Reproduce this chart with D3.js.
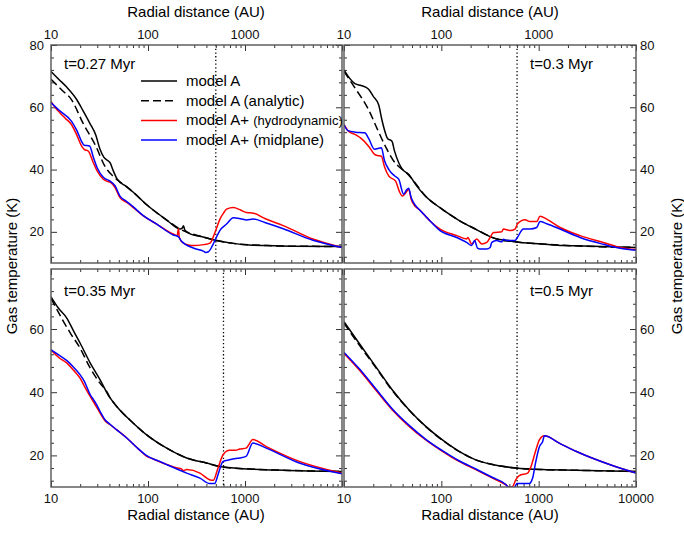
<!DOCTYPE html>
<html>
<head>
<meta charset="utf-8">
<script src="https://cdn.jsdelivr.net/npm/d3@7"></script>
<style>
  body { margin: 0; background: #fff; }
  svg { font-family: "Liberation Sans", Arial, sans-serif; }
</style>
</head>
<body>
<svg id="chart" width="684" height="533"></svg>
<script>
/* ---------- data: [radius AU, gas temperature K] ---------- */
// t = 0.27 Myr
var tlModel = [[10,71.5],[12,69],[14.5,66.5],[18.4,62.5],[21.3,59],[25,55],[29,51],[32,46.5],[35,44],[38,43],[40.6,42.2],[44,39.5],[48,37],[60,34.5],[70,32.8],[97,28.7],[156,23.8],[214,20.9],[225,21.2],[232,22],[240,20.5],[280,19.2],[344,18.6],[510,17.2],[758,16.3],[1100,15.8],[1660,15.6],[3000,15.4],[10000,15.3]];
var tlAnalytic = [[10,69],[13,65.5],[16.3,62.4],[21.3,55],[29,47.5],[36,41],[45,37.5],[60,34.5],[70,32.8],[97,28.7],[156,23.8],[214,20.9],[344,18.6],[510,17.2],[758,16.3],[1660,15.6],[3000,15.4],[10000,15.3]];
var tlHydro = [[10,61.9],[11,60],[12.4,58.2],[14,56.5],[16.3,54.4],[18.5,51],[20.7,47.5],[22,46.5],[24.3,45.9],[27.3,42.2],[30,39.5],[34.6,36.9],[38,36.2],[40.6,36],[45.7,34.2],[51.4,31],[60,29.5],[70.6,27.8],[89.5,25.1],[123,22.5],[182,19.3],[200,18.8],[206,21],[210,18.3],[222,16.8],[260,15.8],[293,15.6],[372,15.9],[436,16.4],[490,19.8],[552,24.1],[600,26],[646,27.3],[758,27.8],[900,27],[1040,26.2],[1220,26],[1600,24.3],[2480,22],[5010,17.7],[10000,15]];
var tlMid = [[10,61.5],[12.4,58.8],[16.3,55.5],[18.5,52.5],[20.7,49],[22,47.8],[25,47.6],[27.3,44],[30,40.5],[34.6,37.5],[40.6,36.3],[45.7,34.8],[51.4,31.5],[60,29.8],[70.6,28],[89.5,25.2],[123,22.5],[182,19],[206,18.4],[222,17],[293,14.8],[372,13.8],[393,13.4],[420,13.6],[460,15.5],[490,17.3],[552,20.5],[646,22.5],[758,24.5],[900,24.2],[1040,23.8],[1220,24.1],[1600,23],[2480,21],[5010,17.3],[10000,15]];

// t = 0.3 Myr
var trModel = [[10,72],[11,70],[13.1,67.5],[15,67],[17.9,65.8],[20,63.5],[22.7,60.8],[24.5,56],[26.6,51.8],[28,50],[31.1,49.1],[33,46],[36.5,42.2],[40,40],[46.2,38.5],[55,35],[68.5,31.5],[101.6,27.3],[150,23.8],[224,20.9],[371,17.7],[493,17.2],[572,16.8],[1084,16.1],[1796,15.6],[2383,15.5],[10000,15]];
var trAnalytic = [[10,71.5],[13.1,66],[17.9,59.2],[22,53],[26.6,47.5],[32,43],[38,40.5],[42,39.5],[50,37],[68.5,31.5],[101.6,27.3],[150,23.8],[224,20.9],[371,17.7],[572,16.8],[1084,16.1],[2383,15.5],[10000,15]];
var trHydro = [[10,54.4],[11,52.5],[13.1,51.2],[15,50],[17.9,47.5],[20.6,44.9],[22,44.5],[24.2,44.3],[26,41],[28.9,37.9],[33.9,36.3],[37,33],[39.8,31.5],[43,32.5],[46.2,33.7],[49,30.5],[51.8,28.9],[60,27],[68.5,25.1],[76.6,23.5],[97,20.9],[144,18.8],[182,17.7],[187,18.2],[205,16.1],[231,17.7],[260,16.1],[293,16.6],[317,18.2],[343,19.8],[417,20],[434,20.9],[508,20.4],[572,20.9],[604,22.5],[724,23.9],[813,23.3],[955,23.3],[1033,25],[1210,24.1],[1660,21.4],[2660,18.8],[4620,16.6],[6870,15],[10000,14.3]];
var trMid = [[10,54.4],[11,52.5],[13.1,52],[16.3,51.8],[17.9,50],[20.6,46.5],[24.2,47],[26,43],[28.9,40],[33,38],[36.5,36.9],[41,32.1],[44,33.5],[46.2,34],[49,31],[51.8,29.4],[60,27],[68.5,25.1],[76.6,23.5],[97,20.4],[144,18.2],[182,16.6],[205,15.6],[220,17.2],[235,14.8],[250,14.5],[293,14.5],[317,15],[330,16.6],[370,17.2],[417,16.8],[434,17.6],[470,17.2],[572,17.2],[604,18.2],[697,20.9],[813,20.9],[955,21.4],[1033,23.3],[1210,22.6],[1660,20.9],[2660,18.2],[4620,16],[6870,14.7],[10000,14.1]];

// t = 0.35 Myr
var blModel = [[10,70.2],[12,66.5],[14.6,63.4],[17,59.5],[20,55.5],[25.4,49.2],[32.1,43.9],[40,38.5],[47.6,35.5],[70.6,30.2],[96.9,26.5],[156,22.3],[250,19.2],[400,17.6],[594,16.3],[1117,15.7],[2455,15.3],[10000,14.9]];
var blAnalytic = [[10,69.7],[13.5,62.3],[16,58.5],[20,53.9],[25,48],[32.1,42.8],[37.6,40.2],[40,38.6],[47.6,35.5],[70.6,30.2],[96.9,26.5],[156,22.3],[250,19.2],[400,17.6],[594,16.3],[1117,15.7],[2455,15.3],[10000,14.9]];
var blHydro = [[10,53.4],[12,51],[14.6,49.2],[17,47],[20,44.4],[22,42],[25.4,38.6],[28,36.5],[32.1,33.4],[36,31],[40.8,29.7],[47.6,28.1],[60.4,25.5],[80,22],[96.9,19.7],[110,19],[125,18.3],[156,17.1],[200,16],[220,15.8],[230,15.2],[250,15.5],[343,14.4],[431,12.3],[470,12.1],[527,16],[594,20.2],[692,21.6],[800,21.6],[880,22],[1025,22.3],[1205,25],[1660,22.8],[3630,18.1],[10000,14.4]];
var blMid = [[10,53.4],[12,51.8],[14.6,50],[17,48],[20,45.5],[22,43.5],[25.4,39.2],[27.5,37.6],[29,36.5],[32.1,33.9],[36,31.3],[40.8,29.8],[47.6,28.1],[60.4,25.5],[80,22],[96.9,19.9],[132,18.1],[156,17.1],[250,14.4],[343,12.8],[431,11.1],[488,11.1],[527,13.9],[594,18.1],[692,18.6],[800,19],[880,19.2],[1025,19.7],[1205,23.9],[1660,22.3],[3630,17.6],[10000,14.2]];

// t = 0.5 Myr
var brModel = [[10,62.3],[14.3,55.5],[21.2,48.1],[31.4,40.7],[46.7,34.4],[69.2,29.2],[102.6,24.9],[152,21.3],[226,18.6],[336,17.1],[583,16],[1096,15.5],[2415,15.3],[10000,14.9]];
var brAnalytic = [[10,61.8],[14.3,55],[21.2,47.8],[31.4,40.5],[46.7,34.3],[69.2,29.1],[102.6,24.8],[152,21.3],[226,18.6],[336,17.1],[583,16],[1096,15.5],[2415,15.3],[10000,14.9]];
var brHydro = [[10,52.3],[14.3,47.1],[21.2,40.7],[31.4,34.4],[46.7,29.2],[69.2,24.9],[102.6,21.3],[152,18.1],[226,15.5],[336,12.8],[460,10.7],[497,10],[540,10.2],[583,12.3],[632,13.6],[770,14.4],[835,16.5],[938,21.8],[1020,25],[1145,26.2],[1625,23.9],[2415,21.3],[5350,17.1],[10000,14.4]];
var brMid = [[10,52.6],[14.3,47.5],[21.2,41.1],[31.4,34.7],[46.7,29.5],[69.2,25.1],[102.6,21.5],[152,18.3],[226,15.7],[336,13],[460,10.8],[490,9.9],[560,9.8],[600,11.1],[800,11.1],[870,13],[920,17],[1020,22.8],[1100,24.4],[1145,26.2],[1625,23.9],[2415,21.3],[5350,17.1],[10000,14.4]];

var panelLabels = ["t=0.27 Myr", "t=0.3 Myr", "t=0.35 Myr", "t=0.5 Myr"];
var dividers = [500, 600, 600, 600];
var legendNames = ["model A", "model A (analytic)", "model A+ ", "model A+ (midplane)"];

var xMajor = [10, 100, 1000, 10000];
var yMajorTop = [20, 40, 60, 80];
var yMajorBottom = [20, 40, 60];
var yMinor = [12, 16, 24, 28, 32, 36, 44, 48, 52, 56, 64, 68, 72, 76];
var xMinor = [];
[10, 100, 1000].forEach(function(d) { for (var k = 2; k < 10; k++) xMinor.push(d * k); });

/* ---------- layout ---------- */
var svg = d3.select("#chart");
var frames = [
  {x0: 51,  x1: 342, y0: 45,  y1: 263, yMax: 80, right: false, top: true},
  {x0: 344, x1: 636, y0: 45,  y1: 263, yMax: 80, right: true,  top: true},
  {x0: 51,  x1: 342, y0: 269, y1: 487, yMax: 79, right: false, top: false},
  {x0: 344, x1: 636, y0: 269, y1: 487, yMax: 79, right: true,  top: false}
];
var series = [
  [tlModel, tlAnalytic, tlHydro, tlMid],
  [trModel, trAnalytic, trHydro, trMid],
  [blModel, blAnalytic, blHydro, blMid],
  [brModel, brAnalytic, brHydro, brMid]
];
var styles = [
  {stroke: "#000", dash: null},
  {stroke: "#000", dash: "8,4"},
  {stroke: "#ff0000", dash: null},
  {stroke: "#0000ff", dash: null}
];

function styleAxis(g) {
  g.select(".domain").remove();
  g.selectAll("text").remove();
  g.selectAll("line").attr("stroke", "#333");
}

var labelLayer = svg.append("g").attr("font-size", 13).attr("fill", "#111");

frames.forEach(function(f, i) {
  var x = d3.scaleLog().domain([10, 10000]).range([f.x0, f.x1]);
  var y = d3.scaleLinear().domain([10, f.yMax]).range([f.y1, f.y0]);
  var g = svg.append("g");

  svg.append("clipPath").attr("id", "clip" + i)
    .append("rect").attr("x", f.x0).attr("y", f.y0)
    .attr("width", f.x1 - f.x0).attr("height", f.y1 - f.y0);

  // ticks point inward on all four edges
  [[f.y1, d3.axisBottom], [f.y0, d3.axisTop]].forEach(function(a) {
    g.append("g").attr("transform", "translate(0," + a[0] + ")")
      .call(a[1](x).tickValues(xMajor).tickSize(-6)).call(styleAxis);
    g.append("g").attr("transform", "translate(0," + a[0] + ")")
      .call(a[1](x).tickValues(xMinor).tickSize(-3)).call(styleAxis);
  });
  var yMaj = yMajorTop.filter(function(d) { return d <= f.yMax; });
  var yMin = yMinor.filter(function(d) { return d <= f.yMax; });
  [[f.x0, d3.axisLeft], [f.x1, d3.axisRight]].forEach(function(a) {
    g.append("g").attr("transform", "translate(" + a[0] + ",0)")
      .call(a[1](y).tickValues(yMaj).tickSize(-6)).call(styleAxis);
    g.append("g").attr("transform", "translate(" + a[0] + ",0)")
      .call(a[1](y).tickValues(yMin).tickSize(-3)).call(styleAxis);
  });

  // tick labels
  var xLab = f.top ? [10, 100, 1000] : (f.right ? [10, 100, 1000, 10000] : [10, 100, 1000]);
  labelLayer.selectAll(null).data(xLab).enter().append("text")
    .attr("x", function(d) { return x(d); })
    .attr("y", f.top ? f.y0 - 6 : f.y1 + 16)
    .attr("text-anchor", "middle")
    .text(function(d) { return d; });
  var yLab = f.top ? yMajorTop : yMajorBottom;
  labelLayer.selectAll(null).data(yLab).enter().append("text")
    .attr("x", f.right ? f.x1 + 4 : f.x0 - 7)
    .attr("y", function(d) { return y(d) + 4.5; })
    .attr("text-anchor", f.right ? "start" : "end")
    .text(function(d) { return d; });

  // curves
  var line = d3.line()
    .x(function(d) { return x(d[0]); })
    .y(function(d) { return y(d[1]); })
    .curve(d3.curveMonotoneX);
  var plot = svg.append("g").attr("clip-path", "url(#clip" + i + ")");

  plot.append("line")
    .attr("x1", x(dividers[i])).attr("x2", x(dividers[i]))
    .attr("y1", f.y0).attr("y2", f.y1)
    .attr("stroke", "#000").attr("stroke-width", 1.3).attr("stroke-dasharray", "1.3,2.4");

  series[i].forEach(function(s, k) {
    plot.append("path").datum(s)
      .attr("d", line)
      .attr("fill", "none")
      .attr("stroke", styles[k].stroke)
      .attr("stroke-width", 1.5)
      .attr("stroke-dasharray", styles[k].dash);
  });

  // frame
  svg.append("rect")
    .attr("x", f.x0).attr("y", f.y0)
    .attr("width", f.x1 - f.x0).attr("height", f.y1 - f.y0)
    .attr("fill", "none").attr("stroke", "#555").attr("stroke-width", 1.4);

  svg.append("text")
    .attr("x", f.right ? f.x0 + 186 : f.x0 + 13)
    .attr("y", f.y0 + (f.top ? 24 : 27))
    .attr("font-size", 15)
    .text(panelLabels[i]);
});

/* ---------- legend (first panel) ---------- */
var legend = svg.append("g");
legendNames.forEach(function(name, k) {
  var ly = 81 + k * 19.7;
  legend.append("line")
    .attr("x1", 141).attr("x2", 177).attr("y1", ly).attr("y2", ly)
    .attr("stroke", styles[k].stroke).attr("stroke-width", 1.5)
    .attr("stroke-dasharray", styles[k].dash);
  var t = legend.append("text").attr("x", 186).attr("y", ly + 5).attr("font-size", 15).text(name);
  if (k === 2) t.append("tspan").attr("font-size", 13).text("(hydrodynamic)");
});

/* ---------- axis titles ---------- */
[196, 490].forEach(function(cx) {
  svg.append("text").attr("x", cx).attr("y", 17).attr("text-anchor", "middle")
    .attr("font-size", 15).text("Radial distance (AU)");
  svg.append("text").attr("x", cx).attr("y", 520).attr("text-anchor", "middle")
    .attr("font-size", 15).text("Radial distance (AU)");
});
[17, 682].forEach(function(cx) {
  svg.append("text").attr("transform", "translate(" + cx + ",266) rotate(-90)")
    .attr("text-anchor", "middle").attr("font-size", 15).text("Gas temperature (K)");
});
</script>
</body>
</html>
